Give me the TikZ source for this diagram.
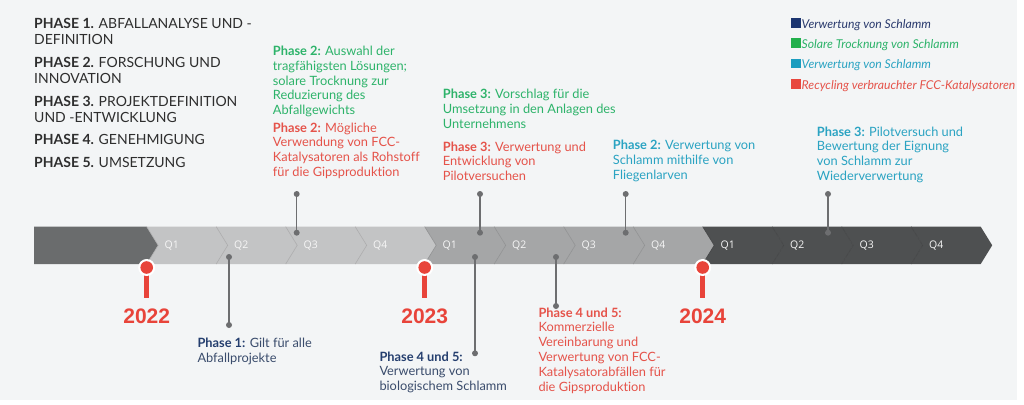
\documentclass[tikz,border=0pt]{standalone}
\usepackage{fontspec}
\setmainfont{Lato}[RawFeature={-liga;-clig;-dlig;-calt}]
\newfontfamily\yearfont{Liberation Sans}
\newfontfamily\qfont{Open Sans}
\definecolor{bgc}{HTML}{F3F5F6}
\definecolor{darkA}{HTML}{6A6C6D}
\definecolor{segA}{HTML}{C3C4C5}
\definecolor{segB}{HTML}{A5A6A7}
\definecolor{segC}{HTML}{4E5051}
\definecolor{pinred}{HTML}{E8443A}
\definecolor{conn}{HTML}{6D6E70}
\definecolor{tgreen}{HTML}{2DB36A}
\definecolor{tred}{HTML}{E5534A}
\definecolor{tteal}{HTML}{2AA3C2}
\definecolor{tnavy}{HTML}{243E6E}
\definecolor{tslate}{HTML}{3A4C6C}
\definecolor{lnavy}{HTML}{1B3570}
\definecolor{lgreen}{HTML}{22B04C}
\definecolor{lteal}{HTML}{1B9DBF}
\definecolor{lred}{HTML}{E8473E}
\definecolor{ltxtnavy}{HTML}{2A3B6E}
\definecolor{leftc}{HTML}{2E2E2E}
\begin{document}
\begin{tikzpicture}[x=1pt,y=-1pt,
  phasetxt/.style={anchor=north west,inner sep=0pt,align=left,font=\fontsize{14}{16}\selectfont,text=leftc},
  blocktxt/.style={anchor=north west,inner sep=0pt,align=left,font=\fontsize{12.8}{14.8}\selectfont},
  qlab/.style={inner sep=0pt,font=\qfont\fontsize{10.5}{12}\selectfont,text=white!93!gray},
  yearlab/.style={anchor=base,inner sep=0pt,font=\yearfont\bfseries\fontsize{21}{24}\selectfont,text=pinred},
  legtxt/.style={anchor=base west,inner sep=0pt,font=\itshape\fontsize{12.2}{13}\selectfont},
  connline/.style={draw=conn,line width=1.5pt},
  dotc/.style={fill=conn},
]
\useasboundingbox (0,0) rectangle (1024,404);
\fill[white] (0,0) rectangle (1024,404);
\fill[bgc] (0,0) rectangle (1017,400);

% ---------- bar ----------
\def\bt{226.7}\def\bb{264}\def\bm{245.3}
\fill[darkA] (34,\bt) -- (146.7,\bt) -- (158.2,\bm) -- (146.7,\bb) -- (34,\bb) -- cycle;
\foreach \k/\col/\lq in {0/segA/Q1,1/segA/Q2,2/segA/Q3,3/segA/Q4,4/segB/Q1,5/segB/Q2,6/segB/Q3,7/segB/Q4,8/segC/Q1,9/segC/Q2,10/segC/Q3,11/segC/Q4}{
  \pgfmathsetmacro{\xa}{146.7+69.5*\k}
  \pgfmathsetmacro{\xb}{\xa+69.5}
  \fill[\col] (\xa,\bt) -- (\xb,\bt) -- (\xb+11.5,\bm) -- (\xb,\bb) -- (\xa,\bb) -- (\xa+11.5,\bm) -- cycle;
  \draw[\col!88!black,line width=0.6pt] (\xa,\bt) -- (\xa+11.5,\bm) -- (\xa,\bb);
  \node[qlab] (q\k) at (\xa+25,\bm) {\lq};
}

% ---------- connectors ----------
\coordinate (a1) at (229,257);   \coordinate (a2) at (229,325);
\coordinate (b1) at (296.7,232.7); \coordinate (b2) at (296.7,194);
\coordinate (c1) at (480,232.7); \coordinate (c2) at (480,194);
\coordinate (d1) at (475,257);   \coordinate (d2) at (475,353.3);
\coordinate (e1) at (556,257);   \coordinate (e2) at (556,306);
\coordinate (f1) at (625.7,232.7); \coordinate (f2) at (625.7,194);
\coordinate (g1) at (828,232.7); \coordinate (g2) at (828,194);
\foreach \p in {a,b,c,d,e,f,g}{
  \draw[connline] (\p1) -- (\p2);
  \fill[dotc] (\p1) circle (3);
  \fill[dotc] (\p2) circle (3);
}

% ---------- pins and years ----------
\foreach \n/\x/\yr in {p22/146.7/2022,p23/424.7/2023,p24/702.7/2024}{
  \coordinate (\n) at (\x,267.5);
  \draw[pinred,line width=4.5pt] (\n) -- ++(0,30.5);
  \fill[white] (\n) circle (8.5);
  \fill[pinred] (\n) circle (6.3);
  \node[yearlab] (y\n) at (\x,323.3) {\yr};
}

% ---------- left phase list ----------
\node[phasetxt] (ph1) at (34,18.5) {\textbf{PHASE 1.} ABFALLANALYSE UND -\\DEFINITION};
\node[phasetxt] (ph2) at (34,57) {\textbf{PHASE 2.} FORSCHUNG UND\\INNOVATION};
\node[phasetxt] (ph3) at (34,96) {\textbf{PHASE 3.} PROJEKTDEFINITION\\UND -ENTWICKLUNG};
\node[phasetxt] (ph4) at (34,134) {\textbf{PHASE 4.} GENEHMIGUNG};
\node[phasetxt] (ph5) at (34,157) {\textbf{PHASE 5.} UMSETZUNG};

% ---------- upper text blocks ----------
\node[blocktxt,text=tgreen] (t1) at (272.7,45.7) {\textbf{Phase 2:} Auswahl der\\tragfähigsten Lösungen;\\solare Trocknung zur\\Reduzierung des\\Abfallgewichts};
\node[blocktxt,text=tred] (t2) at (272.7,122.4) {\textbf{Phase 2:} Mögliche\\Verwendung von FCC-\\Katalysatoren als Rohstoff\\für die Gipsproduktion};
\node[blocktxt,text=tgreen] (t3) at (442.7,89) {\textbf{Phase 3:} Vorschlag für die\\Umsetzung in den Anlagen des\\Unternehmens};
\node[blocktxt,text=tred] (t4) at (442.7,141.4) {\textbf{Phase 3:} Verwertung und\\Entwicklung von\\Pilotversuchen};
\node[blocktxt,text=tteal] (t5) at (612.7,140) {\textbf{Phase 2:} Verwertung von\\Schlamm mithilfe von\\Fliegenlarven};
\node[blocktxt,text=tteal] (t6) at (816.7,126.4) {\textbf{Phase 3:} Pilotversuch und\\Bewertung der Eignung\\von Schlamm zur\\Wiederverwertung};

% ---------- lower text blocks ----------
\node[blocktxt,text=tslate] (t7) at (197.3,338) {\textcolor{tnavy}{\textbf{Phase 1:}} Gilt für alle\\Abfallprojekte};
\node[blocktxt,text=tslate] (t8) at (379.3,351.4) {\textcolor{tnavy}{\textbf{Phase 4 und 5:}}\\Verwertung von\\biologischem Schlamm};
\node[blocktxt,text=tred] (t9) at (538.3,307.4) {\textbf{Phase 4 und 5:}\\Kommerzielle\\Vereinbarung und\\Verwertung von FCC-\\Katalysatorabfällen für\\die Gipsproduktion};

% ---------- legend ----------
\foreach \i/\sq/\tc/\txt in {0/lnavy/ltxtnavy/Verwertung von Schlamm,1/lgreen/tgreen/Solare Trocknung von Schlamm,2/lteal/tteal/Verwertung von Schlamm,3/lred/tred/Recycling verbrauchter FCC-Katalysatoren}{
  \pgfmathsetmacro{\yb}{28.3+20.3*\i}
  \fill[\sq] (790.7,\yb-10.3) rectangle (800.5,\yb-0.7);
  \node[legtxt,text=\tc] (leg\i) at (801.5,\yb) {\txt};
}
\end{tikzpicture}
\end{document}
